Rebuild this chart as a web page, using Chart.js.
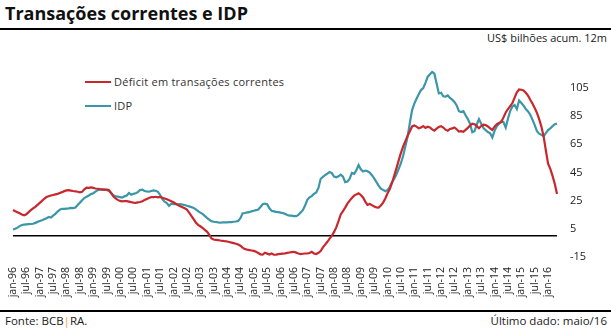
<!DOCTYPE html>
<html>
<head>
<meta charset="utf-8">
<script src="https://cdn.jsdelivr.net/npm/chart.js@4.4.0/dist/chart.umd.min.js"></script>
<style>
    body { margin: 0; width: 611px; height: 329px; position: relative; background: #fff; overflow: hidden; font-family: 'Open Sans', sans-serif; color: #1a1a1a; }
    #title { position: absolute; left: 5px; top: 1px; font-size: 18px; font-weight: bold; color: #111; }
    .rule { position: absolute; left: 0; width: 611px; height: 2px; background: #000; }
    #units { position: absolute; right: 4px; top: 30px; font-size: 11px; }
    #chartWrap { position: absolute; left: 0; top: 40px; width: 611px; height: 268px; }
    .legend { position: absolute; left: 85px; font-size: 11px; color: #333; letter-spacing: 0.25px; }
    .legend span { display: inline-block; width: 26px; height: 2.5px; vertical-align: middle; margin-right: 3px; position: relative; top: -1px; }
    #footL { position: absolute; left: 5px; top: 313px; font-size: 11.5px; }
    #footR { position: absolute; right: 4px; top: 313px; font-size: 11.5px; }
</style>
</head>
<body>
<div id="title">Transações correntes e IDP</div>
<div class="rule" style="top:28px"></div>
<div id="units">US$ bilhões acum. 12m</div>
<div class="legend" style="top:74px"><span style="background:#c8282d"></span>Déficit em transações correntes</div>
<div class="legend" style="top:98px"><span style="background:#3a96a8"></span>IDP</div>
<div id="chartWrap"><canvas id="mainChart" width="611" height="268"></canvas></div>
<div class="rule" style="top:310px"></div>
<div id="footL">Fonte: BCB<span style="color:#e8a33c">|</span>RA.</div>
<div id="footR">Último dado: maio/16</div>

<script>
// monthly, jan-96 .. mai-16
const years = ['96','97','98','99','00','01','02','03','04','05','06','07','08','09','10','11','12','13','14','15','16'];
const monthNames = ['jan','fev','mar','abr','mai','jun','jul','ago','set','out','nov','dez'];
const lastMonth = 4; // maio/16

const yTicks = [-15, 5, 25, 45, 65, 85, 105];

// Déficit em transações correntes (US$ bi, 12m)
const deficit = [
    18.3, 17.5, 16.8, 16.0, 15.2, 14.5, 15.3, 16.8, 18.2, 19.5, 20.6, 22.0,   // 96
    23.4, 24.8, 26.3, 27.5, 28.1, 28.6, 29.0, 29.4, 29.8, 30.4, 31.0, 31.7,   // 97
    32.2, 32.4, 32.1, 31.8, 31.6, 31.3, 30.9, 31.2, 33.0, 34.2, 34.0, 34.3,   // 98
    34.0, 33.6, 33.4, 33.1, 33.0, 32.8, 32.8, 32.5, 30.5, 28.0, 26.5, 25.5,   // 99
    24.8, 24.5, 24.7, 24.6, 24.3, 23.9, 23.6, 23.4, 23.7, 24.0, 24.6, 25.4,   // 00
    26.2, 26.9, 27.5, 27.4, 27.7, 27.3, 27.6, 27.0, 26.5, 25.9, 25.3, 24.6,   // 01
    23.8, 22.8, 21.8, 21.0, 20.3, 19.6, 18.6, 16.5, 14.2, 11.8, 9.5, 7.8,     // 02
    6.8, 5.6, 4.3, 3.0, 0.8, -1.8, -2.6, -2.8, -3.0, -3.3, -3.5, -3.8,        // 03
    -4.0, -4.4, -4.8, -5.2, -5.6, -6.1, -7.0, -8.3, -9.4, -9.8, -10.1, -10.4, // 04
    -10.7, -11.3, -12.2, -13.1, -13.3, -12.0, -12.6, -13.2, -12.5, -13.4, -13.3, -13.0, // 05
    -12.8, -12.6, -12.4, -12.1, -11.8, -11.5, -11.3, -11.9, -12.5, -12.9, -12.7, -12.5, // 06
    -12.4, -12.2, -11.3, -12.5, -12.9, -12.0, -10.8, -8.2, -6.2, -4.2, -2.0, 0.0,       // 07
    2.8, 6.0, 10.5, 15.2, 17.6, 20.0, 22.8, 25.0, 26.8, 28.5, 29.4, 30.2,     // 08
    29.0, 27.2, 24.3, 22.0, 22.6, 21.8, 20.8, 20.2, 20.0, 21.5, 23.6, 26.5,   // 09
    30.2, 33.2, 37.5, 42.8, 48.0, 53.5, 58.8, 63.5, 67.2, 71.0, 74.2, 77.6,   // 10
    78.3, 77.5, 76.3, 76.8, 77.9, 76.6, 77.4, 76.9, 75.5, 74.6, 76.0, 77.2,   // 11
    77.8, 76.8, 75.3, 74.6, 75.8, 76.2, 76.9, 75.6, 74.0, 74.3, 73.8, 75.2,   // 12
    76.6, 78.3, 79.6, 79.2, 77.8, 76.3, 77.9, 78.8, 78.5, 77.6, 76.2, 75.1,   // 13
    77.5, 79.2, 80.0, 80.7, 84.0, 87.5, 89.8, 92.0, 94.2, 98.0, 101.8, 103.9, // 14
    103.6, 103.1, 101.5, 99.4, 96.5, 93.8, 90.7, 87.2, 82.8, 77.5, 70.5, 60.5, // 15
    51.2, 47.5, 42.5, 36.9, 29.7                                              // 16
];

// IDP (US$ bi, 12m)
const idp = [
    4.5, 5.0, 5.8, 6.9, 7.7, 8.0, 8.2, 8.3, 8.4, 8.6, 9.2, 9.9,               // 96
    10.5, 11.1, 11.8, 12.4, 13.4, 13.0, 14.3, 15.6, 17.2, 18.6, 19.2, 19.1,   // 97
    19.3, 19.5, 19.8, 19.7, 20.1, 21.8, 23.5, 25.3, 26.8, 27.8, 28.6, 29.6,   // 98
    30.2, 31.3, 32.4, 32.9, 32.6, 32.8, 32.5, 31.8, 30.3, 28.8, 28.0, 27.8,   // 99
    27.5, 27.2, 28.0, 28.6, 30.4, 29.2, 29.8, 30.2, 31.0, 32.5, 32.8, 31.8,   // 00
    31.5, 31.3, 31.8, 32.2, 32.0, 31.2, 29.0, 26.0, 24.2, 23.3, 21.3, 22.8,   // 01
    22.5, 22.6, 22.3, 22.5, 22.2, 21.9, 21.4, 20.9, 20.4, 19.8, 18.8, 17.6,   // 02
    16.5, 15.6, 14.2, 12.8, 11.5, 10.4, 10.0, 9.8, 9.5, 9.3, 9.5, 9.6,       // 03
    9.6, 9.8, 9.8, 10.0, 10.2, 10.6, 12.5, 16.0, 16.2, 16.6, 16.8, 17.4,      // 04
    17.8, 18.2, 18.7, 20.5, 22.4, 22.9, 22.5, 19.5, 17.8, 17.4, 17.0, 16.8,   // 05
    16.5, 16.2, 15.6, 14.8, 14.4, 14.3, 14.0, 14.0, 14.8, 16.5, 18.2, 21.5,   // 06
    25.5, 27.3, 28.2, 29.8, 30.8, 34.0, 40.5, 41.8, 43.0, 44.2, 45.3, 44.5,   // 07
    42.0, 41.5, 42.2, 43.4, 42.0, 38.1, 38.5, 40.5, 44.6, 44.0, 46.5, 50.2,   // 08
    47.2, 45.6, 46.3, 45.8, 44.8, 43.0, 40.8, 38.2, 35.6, 33.4, 32.6, 31.6,   // 09
    32.5, 34.8, 38.1, 40.6, 43.6, 47.5, 51.5, 56.8, 63.5, 70.5, 80.0, 89.2,   // 10
    93.8, 97.2, 100.5, 103.4, 104.8, 108.5, 112.8, 114.6, 116.2, 115.0, 108.0, 101.0, // 11
    101.5, 99.0, 98.8, 99.6, 97.8, 96.6, 95.0, 92.5, 88.4, 87.8, 88.4, 85.5, // 12
    82.8, 79.5, 73.5, 74.2, 79.0, 82.8, 79.5, 76.5, 75.0, 73.6, 72.8, 69.8,   // 13
    74.5, 77.8, 79.5, 81.2, 80.6, 76.8, 83.0, 88.5, 91.8, 92.8, 89.9, 96.0,   // 14
    94.3, 92.3, 90.0, 88.2, 85.9, 82.4, 78.6, 74.2, 72.5, 71.6, 70.6, 72.8,   // 15
    75.0, 76.2, 77.8, 79.2, 79.6                                              // 16
];

const labels = [];
years.forEach((yy, i) => {
    monthNames.forEach((mn, j) => {
        if (i === years.length - 1 && j > lastMonth) return;
        labels.push(mn + '-' + yy);
    });
});

const zeroLine = {
    id: 'zeroLine',
    beforeDatasetsDraw(chart) {
        const ctx = chart.ctx;
        const y = chart.scales.y.getPixelForValue(0);
        ctx.save();
        ctx.strokeStyle = '#000';
        ctx.lineWidth = 1.5;
        ctx.beginPath();
        ctx.moveTo(chart.chartArea.left, y);
        ctx.lineTo(chart.chartArea.right, y);
        ctx.stroke();
        ctx.restore();
    }
};

const ctx = document.getElementById('mainChart').getContext('2d');
window.mainChart = new Chart(ctx, {
    type: 'line',
    data: {
        labels: labels,
        datasets: [{
            label: 'Déficit em transações correntes',
            data: deficit,
            borderColor: '#c8282d',
            borderWidth: 2.2,
            pointRadius: 0,
            tension: 0
        }, {
            label: 'IDP',
            data: idp,
            borderColor: '#3a96a8',
            borderWidth: 2.2,
            pointRadius: 0,
            tension: 0
        }]
    },
    options: {
        responsive: false,
        animation: false,
        layout: { padding: { left: 13, top: 9, right: 0, bottom: 0 } },
        plugins: { legend: { display: false }, tooltip: { enabled: false } },
        scales: {
            x: {
                grid: { display: false, drawTicks: false },
                border: { display: false },
                ticks: {
                    autoSkip: false,
                    minRotation: 90,
                    maxRotation: 90,
                    padding: 10,
                    color: '#222',
                    font: { family: 'Open Sans', size: 10.5 },
                    callback: (v, i) => (i % 6 === 0 ? labels[i] : null)
                },
                afterFit: s => { s.height = 51; }
            },
            y: {
                position: 'right',
                min: -15,
                max: 125,
                grid: { display: false, drawTicks: false },
                border: { display: false },
                afterBuildTicks: s => { s.ticks = yTicks.map(v => ({ value: v })); },
                ticks: {
                    padding: 13,
                    color: '#222',
                    font: { family: 'Open Sans', size: 11 }
                },
                afterFit: s => { s.width = 54; }
            }
        }
    },
    plugins: [zeroLine]
});
</script>
</body>
</html>
